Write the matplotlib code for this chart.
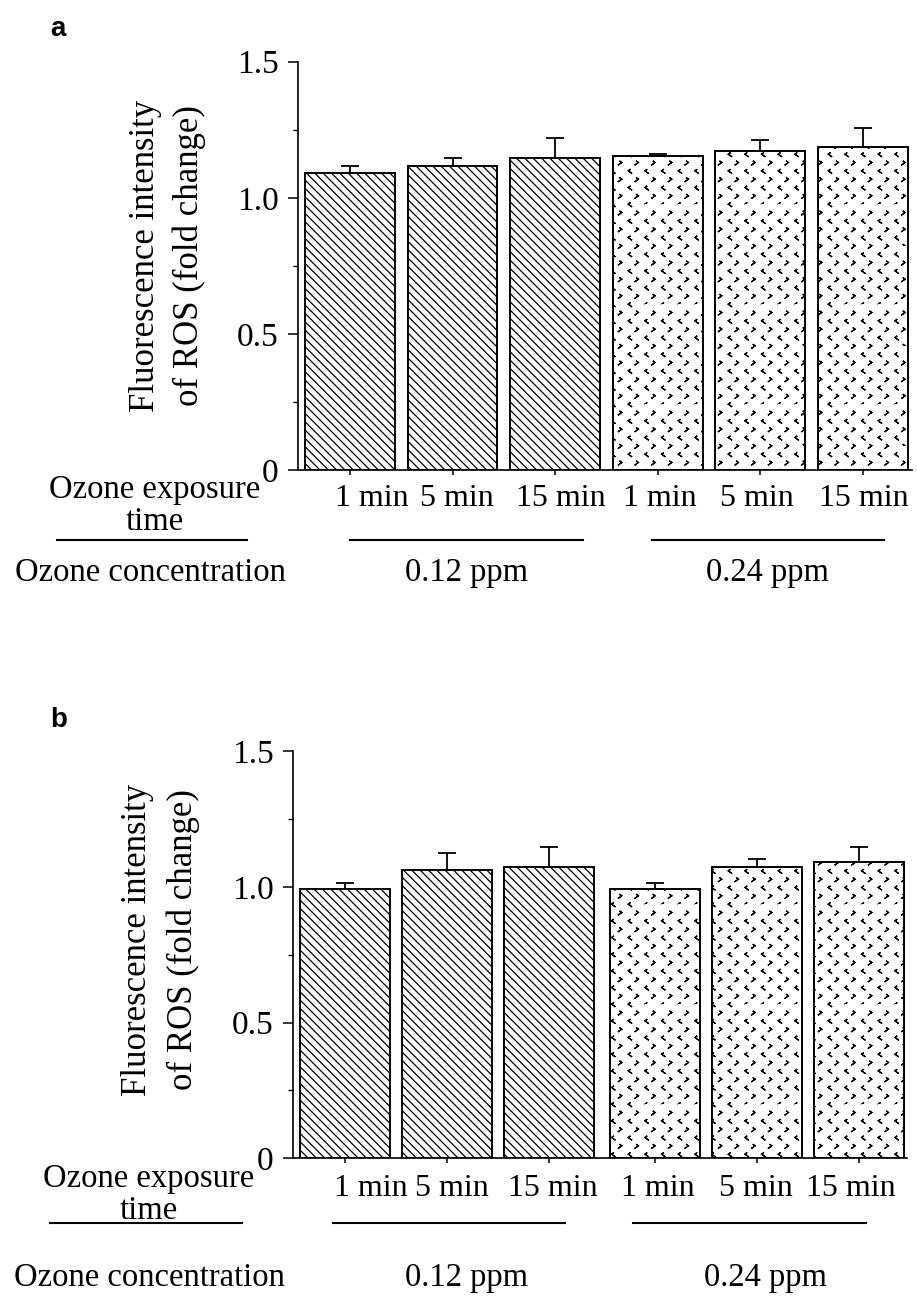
import numpy as np
import matplotlib
matplotlib.use("Agg")
import matplotlib.pyplot as plt
import matplotlib.hatch as mhatch
from matplotlib.lines import Line2D
from matplotlib.path import Path

# ---------------- data ----------------
time_labels = ["1 min", "5 min", "15 min", "1 min", "5 min", "15 min"]
conc_labels = ["0.12 ppm", "0.24 ppm"]
group_index = [0, 0, 0, 1, 1, 1]
yticks = [0, 0.5, 1.0, 1.5]
ytick_labels = ["0", "0.5", "1.0", "1.5"]
minor_yticks = [0.25, 0.75, 1.25]

a_means = [1.092, 1.115, 1.147, 1.154, 1.171, 1.186]
a_errs = [0.025, 0.032, 0.071, 0.006, 0.040, 0.070]
b_means = [0.990, 1.062, 1.071, 0.990, 1.071, 1.093]
b_errs = [0.024, 0.063, 0.076, 0.023, 0.031, 0.054]

ylabel_lines = ["Fluorescence intensity", "of ROS (fold change)"]
row1_label = ["Ozone exposure", "time"]
row2_label = "Ozone concentration"
group_hatches = ["\\\\\\\\", "."]


# ---------------- custom chevron hatch for '.' ----------------
class ChevronHatch(mhatch.HatchPatternBase):
    half_w = 0.009
    half_h = 0.013

    def __init__(self, hatch, density):
        self.ncol = hatch.count('.') * density
        self.items = []
        if self.ncol:
            nrow = 2 * self.ncol
            for r in range(nrow):
                y = (r + 0.5) / nrow
                if r % 2 == 0:
                    for j in range(self.ncol):
                        self.items.append(((j + 0.25) / self.ncol, y, 1))
                else:
                    for j in range(self.ncol):
                        self.items.append(((j + 0.75) / self.ncol, y, -1))
        self.num_vertices = len(self.items) * 5

    def set_vertices_and_codes(self, vertices, codes):
        a, b = self.half_w, self.half_h
        k = 0
        for (x, y, d) in self.items:
            pts = [(x - d * a, y + b), (x + d * a, y), (x - d * a, y - b),
                   (x + d * a, y), (x - d * a, y + b)]
            for i, p in enumerate(pts):
                vertices[k] = p
                codes[k] = Path.MOVETO if i == 0 else Path.LINETO
                k += 1


for i, t in enumerate(mhatch._hatch_types):
    if t is mhatch.SmallFilledCircles:
        mhatch._hatch_types[i] = ChevronHatch

plt.rcParams["font.family"] = ["Liberation Serif", "DejaVu Serif"]
plt.rcParams["hatch.linewidth"] = 0.9
plt.rcParams["hatch.color"] = "black"

W, H = 917, 1300
fig = plt.figure(figsize=(W / 100, H / 100), dpi=100)
FS = 23.5      # row labels
FS_TL = 23     # time labels
FS_Y = 24      # y tick labels


def fx(px):
    return px / W


def fy(py):
    return 1 - py / H


def panel(spec):
    left, right, y0, y15 = spec["axes"]
    ax = fig.add_axes([fx(left), fy(y0), fx(right - left), (y0 - y15) / H])
    x = np.arange(len(spec["means"])) + np.array(group_index) * spec["gap"]
    bars = ax.bar(x, spec["means"], width=spec["width"], color="white",
                  edgecolor="black", linewidth=1.4, zorder=2)
    for bar, g in zip(bars, group_index):
        bar.set_hatch(group_hatches[g])
    ax.errorbar(x, spec["means"], yerr=[np.zeros(len(x)), spec["errs"]],
                fmt="none", ecolor="black", elinewidth=1.3, capsize=6.5,
                capthick=1.3, zorder=3)
    ax.set_ylim(0, 1.5)
    ax.set_xlim(*spec["xlim"])
    for s in ["top", "right"]:
        ax.spines[s].set_visible(False)
    for s in ["left", "bottom"]:
        ax.spines[s].set_linewidth(1.2)
    ax.set_yticks(yticks)
    ax.set_yticklabels(ytick_labels)
    ax.set_yticks(minor_yticks, minor=True)
    ax.set_xticks(x)
    ax.set_xticklabels([])
    ax.tick_params(axis="y", which="major", direction="out", length=7,
                   width=1.1, pad=7, labelsize=FS_Y)
    ax.tick_params(axis="y", which="minor", direction="out", length=3.6,
                   width=1.0)
    ax.tick_params(axis="x", direction="out", length=3.6, width=1.1)

    # time labels under the bars
    for lab, cx in zip(time_labels, spec["tl_x"]):
        fig.text(fx(cx), fy(spec["tl_y"]), lab, ha="center", va="baseline",
                 fontsize=FS_TL)
    # y label (two lines)
    for txt, px in zip(ylabel_lines, spec["ylab_x"]):
        fig.text(fx(px), fy(spec["ylab_y"]), txt, rotation=90, ha="center",
                 va="center", fontsize=25)
    # panel letter
    fig.text(fx(50), fy(spec["letter_y"]), spec["letter"], fontsize=20,
             fontweight="bold", family=["Liberation Sans", "DejaVu Sans"],
             ha="left", va="baseline")
    # lower annotation rows
    fig.text(fx(spec["row_x"]), fy(spec["r1_y"]), row1_label[0], ha="center",
             va="baseline", fontsize=FS)
    fig.text(fx(spec["row_x"]), fy(spec["r1b_y"]), row1_label[1], ha="center",
             va="baseline", fontsize=FS)
    fig.text(fx(spec["row2_x"]), fy(spec["r2_y"]), row2_label, ha="center",
             va="baseline", fontsize=FS)
    for lab, cx in zip(conc_labels, spec["conc_x"]):
        fig.text(fx(cx), fy(spec["r2_y"]), lab, ha="center", va="baseline",
                 fontsize=FS)
    for (x0, x1) in spec["lines"]:
        fig.add_artist(Line2D([fx(x0), fx(x1)], [fy(spec["line_y"])] * 2,
                              color="black", lw=1.5))
    return ax


spec_a = dict(axes=(298, 912, 470, 61.7), means=a_means, errs=a_errs,
              gap=0.0, width=0.875, xlim=(-0.507, 5.478),
              tl_x=(372, 457, 561, 660, 757, 864), tl_y=506,
              ylab_x=(146, 189), ylab_y=256, letter="a", letter_y=36,
              row_x=155, row2_x=150, r1_y=498, r1b_y=530, r2_y=581,
              conc_x=(467, 768), line_y=540,
              lines=[(57, 247), (350, 583), (652, 884)])
spec_b = dict(axes=(293, 907, 1158.3, 751), means=b_means, errs=b_errs,
              gap=0.04, width=0.88, xlim=(-0.51, 5.51),
              tl_x=(371, 452, 553, 658, 756, 851), tl_y=1196,
              ylab_x=(138, 183), ylab_y=940, letter="b", letter_y=727,
              row_x=149, row2_x=149, r1_y=1187, r1b_y=1219, r2_y=1286,
              conc_x=(467, 765), line_y=1223,
              lines=[(50, 242), (333, 565), (633, 866)])

panel(spec_a)
panel(spec_b)

fig.savefig("out.png", dpi=100)
